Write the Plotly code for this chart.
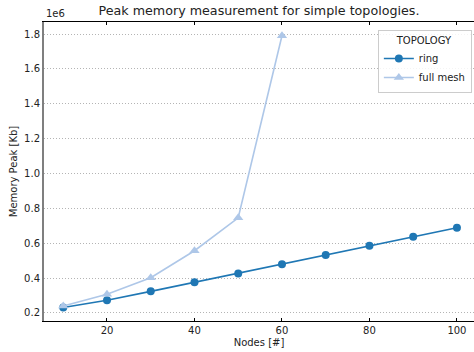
import plotly.graph_objects as go

# Peak memory (Kb) per number of nodes, for each topology
nodes_ring = [10, 20, 30, 40, 50, 60, 70, 80, 90, 100]
peak_ring = [231000, 273000, 324000, 376000, 427000, 480000, 533000, 585000, 637000, 689000]

nodes_mesh = [10, 20, 30, 40, 50, 60]
peak_mesh = [240000, 307000, 402000, 557000, 746000, 1790000]

y_ticks = [200000, 400000, 600000, 800000, 1000000, 1200000, 1400000, 1600000, 1800000]
y_tick_text = ["0.2", "0.4", "0.6", "0.8", "1.0", "1.2", "1.4", "1.6", "1.8"]
x_ticks = [20, 40, 60, 80, 100]

FONT = "DejaVu Sans"
TEXT = "#222222"
HEIGHT = 352

fig = go.Figure()
fig.add_trace(go.Scatter(
    x=nodes_ring, y=peak_ring, name="ring", mode="lines+markers",
    line=dict(color="#1f77b4", width=1.6),
    marker=dict(symbol="circle", size=8, color="#1f77b4"),
))
fig.add_trace(go.Scatter(
    x=nodes_mesh, y=peak_mesh, name="full mesh", mode="lines+markers",
    line=dict(color="#aec7e8", width=1.6),
    marker=dict(symbol="triangle-up", size=9, color="#aec7e8"),
))

fig.update_layout(
    width=474, height=HEIGHT,
    margin=dict(l=44, r=0, t=22, b=31),
    paper_bgcolor="white", plot_bgcolor="white",
    font=dict(family=FONT, size=10, color=TEXT),
    title=dict(text="Peak memory measurement for simple topologies.",
               x=0.5, xref="paper", xanchor="center",
               y=1 - 11 / HEIGHT, yref="container", yanchor="middle",
               font=dict(size=12.7, color=TEXT)),
    xaxis=dict(
        range=[5.6, 103.9], tickvals=x_ticks, showgrid=False, zeroline=False,
        showline=True, linecolor="black", linewidth=1.3, mirror="ticks",
        ticks="inside", ticklen=3, tickcolor="black",
        tickfont=dict(size=10, color=TEXT),
        title=dict(text="Nodes [#]", font=dict(size=10, color=TEXT), standoff=3),
    ),
    yaxis=dict(
        range=[154000, 1869000], tickvals=y_ticks, ticktext=y_tick_text,
        showgrid=True, gridcolor="#b4b4b4", griddash="1px,2px", gridwidth=1,
        zeroline=False, showline=True, linecolor="#7f7f7f", linewidth=2,
        ticks="", tickfont=dict(size=10, color=TEXT),
        title=dict(text="Memory Peak [Kb]", font=dict(size=10, color=TEXT), standoff=5),
    ),
    legend=dict(
        title=dict(text="TOPOLOGY", side="top center", font=dict(size=10, color=TEXT)),
        x=0.995, xanchor="right", y=0.973, yanchor="top",
        bgcolor="rgba(255,255,255,0.85)", bordercolor="#cccccc", borderwidth=1,
        font=dict(size=10, color=TEXT), tracegroupgap=0, itemwidth=30,
    ),
    showlegend=True,
)

# Scale factor shown above the y axis
fig.add_annotation(text="1e6", xref="paper", yref="paper", x=0, y=1,
                   xanchor="left", yanchor="bottom", showarrow=False,
                   font=dict(size=10, color=TEXT), yshift=1)

fig.write_html("out.html")
